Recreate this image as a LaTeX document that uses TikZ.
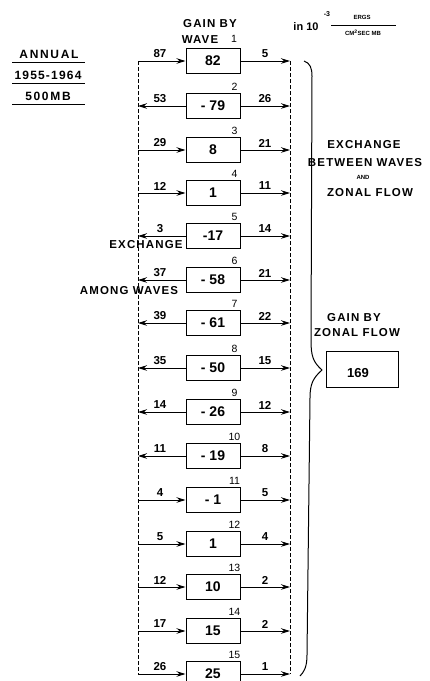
\documentclass[tikz,border=0pt]{standalone}
\usepackage{fontspec}
\setmainfont{Liberation Sans}
\newfontfamily\lab{Liberation Sans}[LetterSpace=10]
\newfontfamily\labw{Liberation Sans}[LetterSpace=14]
\usetikzlibrary{arrows.meta,calc}
\begin{document}
\begin{tikzpicture}[x=1pt,y=-1pt,
  wbox/.style={draw,line width=1pt,minimum width=54pt,minimum height=25pt,inner sep=0pt,font=\bfseries\fontsize{14}{14}\selectfont},
  tin/.style={line width=1pt,-{Stealth[length=9pt,width=5.5pt]}},
  tout/.style={line width=1pt,{Stealth[length=9pt,width=5.5pt]}-},
  dline/.style={line width=0.7pt,dash pattern=on 4pt off 2pt},
  lbl/.style={inner sep=0pt,font=\bfseries\fontsize{11.5}{11.5}\selectfont},
  wnum/.style={inner sep=0pt,font=\fontsize{10.5}{10.5}\selectfont},
  word/.style={inner sep=0pt,font=\lab\bfseries\fontsize{11.5}{11.5}\selectfont},
  big/.style={inner sep=0pt,font=\labw\bfseries\fontsize{12}{12}\selectfont},
  small/.style={inner sep=0pt,font=\bfseries\fontsize{6}{6}\selectfont}]
\useasboundingbox (0,0) rectangle (430,681);

% rows
\foreach \i/\yy/\bv/\lv/\ld/\rv in {
  1/61/82/87/tin/5,
  2/106/- 79/53/tout/26,
  3/150/8/29/tin/21,
  4/193/1/12/tin/11,
  5/236/-17/3/tout/14,
  6/280/- 58/37/tout/21,
  7/323/- 61/39/tout/22,
  8/368/- 50/35/tout/15,
  9/412/- 26/14/tout/12,
  10/456/- 19/11/tout/8,
  11/500/- 1/4/tin/5,
  12/544/1/5/tin/4,
  13/587/10/12/tin/2,
  14/631/15/17/tin/2,
  15/674/25/26/tin/1}{
  \node[wbox] (b\i) at (213,\yy) {\bv};
  \coordinate (L\i) at (138,\yy);
  \coordinate (R\i) at (290,\yy);
  \draw[\ld] (L\i) -- (b\i.west);
  \draw[tin] (b\i.east) -- (R\i);
  \node[lbl] (ll\i) at (160,\yy-7) {\lv};
  \node[lbl] (rl\i) at (265,\yy-7) {\rv};
}
\foreach \i in {2,...,15}{
  \node[wnum] (wn\i) at ($(b\i.north east)+(-6,-6.5)$) {\i};
}
\draw[dline] (L1) -- (L15);
\draw[dline] (R1) -- (R15);

% titles
\node[word] (gain) at (210,24) {GAIN BY};
\node[word] (wave) at (200,40) {WAVE};
\node[wnum] (wn1) at (234,39) {1};

\node[inner sep=0pt,font=\bfseries\fontsize{11}{11}\selectfont] (unit) at (306,27) {in 10};
\node[small,font=\bfseries\fontsize{7}{7}\selectfont] (exp) at (327,14) {-3};
\coordinate (fa) at (331,25);
\coordinate (fb) at (396,25);
\draw[line width=0.7pt] (fa) -- (fb);
\node[small] (ergs) at (362,17) {ERGS};
\node[small] (cm) at (363,33) {CM$^{\mathbf 2}$SEC MB};

\node[big] (ann) at (49,54) {ANNUAL};
\node[big,font=\lab\bfseries\fontsize{12}{12}\selectfont] (yrs) at (48,75) {1955-1964};
\node[big] (mb) at (48,96) {500MB};
\coordinate (u1a) at (12,62); \coordinate (u1b) at (85,62);
\coordinate (u2a) at (12,83); \coordinate (u2b) at (85,83);
\coordinate (u3a) at (12,104); \coordinate (u3b) at (85,104);
\draw[line width=0.9pt] (u1a) -- (u1b);
\draw[line width=0.9pt] (u2a) -- (u2b);
\draw[line width=0.9pt] (u3a) -- (u3b);

\node[word] (ex1) at (146,245) {EXCHANGE};
\node[word] (ex2) at (129,291) {AMONG WAVES};

% right side
\node[word] (z1) at (364,145) {EXCHANGE};
\node[word] (z2) at (365,163) {BETWEEN WAVES};
\node[small] (z3) at (363,177) {AND};
\node[word] (z4) at (370,193) {ZONAL FLOW};
\node[word] (g1) at (354,318) {GAIN BY};
\node[word] (g2) at (357,333) {ZONAL FLOW};
\node[wbox,minimum width=72pt,minimum height=36pt] (zf) at (362,369) {};
\node[inner sep=0pt,font=\bfseries\fontsize{13}{13}\selectfont] (zfv) at (358,373) {169};

% brace
\draw[line width=1pt] (304,61) .. controls (310,63) and (312,68) .. (312,76)
  -- (311,340) .. controls (311,356) and (313,362) .. (322,370)
  .. controls (313,378) and (310,384) .. (310,398)
  -- (307,655) .. controls (307,667) and (304,672) .. (300,676);
\end{tikzpicture}
\end{document}
